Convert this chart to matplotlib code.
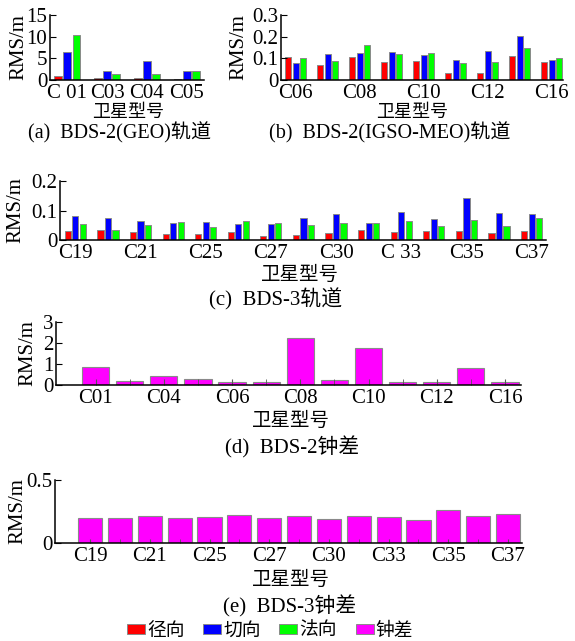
import matplotlib
matplotlib.use('Agg')
import matplotlib.pyplot as plt
from matplotlib.patches import Patch
import numpy as np

plt.rcParams['font.family'] = ['Liberation Serif', 'Noto Sans CJK SC']
plt.rcParams['font.size'] = 15
plt.rcParams['axes.linewidth'] = 1.1

# ---------------- data ----------------
geo_sats = ['C01', 'C03', 'C04', 'C05']
geo_ticklabels = ['C 01', 'C03', 'C04', 'C05']
geo_radial = [1.0, 0.4, 0.35, 0.25]
geo_along = [6.4, 2.1, 4.4, 2.1]
geo_cross = [10.5, 1.4, 1.5, 2.1]

igso_sats = ['C06', 'C07', 'C08', 'C09', 'C10', 'C11', 'C12', 'C14', 'C16']
igso_ticklabels = ['C06', 'C08', 'C10', 'C12', 'C16']
igso_radial = [0.108, 0.071, 0.106, 0.082, 0.088, 0.032, 0.031, 0.112, 0.083]
igso_along = [0.080, 0.122, 0.125, 0.128, 0.117, 0.094, 0.134, 0.205, 0.094]
igso_cross = [0.103, 0.088, 0.160, 0.118, 0.123, 0.080, 0.085, 0.146, 0.103]

bds3_sats = ['C19', 'C20', 'C21', 'C22', 'C25', 'C26', 'C27', 'C28',
             'C30', 'C32', 'C33', 'C34', 'C35', 'C36', 'C37']
bds3_ticklabels = ['C19', 'C21', 'C25', 'C27', 'C30', 'C 33', 'C35', 'C37']
bds3_radial = [0.031, 0.035, 0.027, 0.020, 0.021, 0.027, 0.012, 0.018,
               0.024, 0.033, 0.027, 0.029, 0.031, 0.024, 0.031]
bds3_along = [0.082, 0.076, 0.066, 0.056, 0.062, 0.053, 0.053, 0.075,
              0.088, 0.058, 0.096, 0.071, 0.142, 0.092, 0.088]
bds3_cross = [0.054, 0.033, 0.051, 0.060, 0.045, 0.064, 0.057, 0.051,
              0.058, 0.056, 0.065, 0.048, 0.069, 0.047, 0.074]

bds2_clk_sats = ['C01', 'C03', 'C04', 'C05', 'C06', 'C07', 'C08', 'C09',
                 'C10', 'C11', 'C12', 'C14', 'C16']
bds2_clk_ticklabels = ['C01', 'C04', 'C06', 'C08', 'C10', 'C12', 'C16']
bds2_clk = [0.84, 0.19, 0.44, 0.28, 0.14, 0.14, 2.23, 0.22, 1.74, 0.13, 0.14, 0.82, 0.16]

bds3_clk_ticklabels = ['C19', 'C21', 'C25', 'C27', 'C30', 'C33', 'C35', 'C37']
bds3_clk = [0.200, 0.200, 0.216, 0.200, 0.210, 0.226, 0.197, 0.218,
            0.190, 0.213, 0.208, 0.179, 0.260, 0.216, 0.234]

legend_labels = ['径向', '切向', '法向', '钟差']
colors = ['#ff0000', '#0000ff', '#00ff00', '#ff00ff']
EDGE = '#8a8a8a'

W, H = 575, 641
fig = plt.figure(figsize=(W / 100, H / 100), dpi=100)


def box(l, r, t, b):
    return [l / W, 1 - b / H, (r - l) / W, (b - t) / H]


def style(ax, ylim, yticks, yticklabels, ylabel_x):
    for s in ['top', 'right']:
        ax.spines[s].set_visible(False)
    ax.set_ylim(*ylim)
    ax.set_yticks(yticks)
    ax.set_yticklabels(yticklabels)
    ax.tick_params(axis='y', direction='in', length=4, pad=2)
    ax.tick_params(axis='x', direction='in', length=0, pad=3)
    ax.set_ylabel('RMS/m', labelpad=0)
    ax.yaxis.set_label_coords(ylabel_x, 0.5)


def grouped(ax, series, width=0.19, off=0.23):
    x = np.arange(len(series[0]))
    for k, vals in enumerate(series):
        ax.bar(x + (k - 1) * off, vals, width, color=colors[k],
               edgecolor=EDGE, linewidth=0.7)
    return x


def label(xp, yp, s, size=15):
    fig.text(xp / W, 1 - yp / H, s, ha='center', va='center', fontsize=size)


# (a)
ax = fig.add_axes(box(50, 204, 15, 80))
x = grouped(ax, [geo_radial, geo_along, geo_cross])
ax.set_xlim(-0.43, 3.43)
ax.set_xticks(x)
ax.set_xticklabels(geo_ticklabels)
style(ax, (0, 15), [0, 5, 10, 15], ['0', '5', '10', '15'], -0.14)
label(128, 112, '卫星型号', 13)
label(120, 133, '(a)  BDS-2(GEO)轨道', 14.5)

# (b)
ax = fig.add_axes(box(281, 563, 15, 80))
x = grouped(ax, [igso_radial, igso_along, igso_cross])
ax.set_xlim(-0.46, 8.35)
ax.set_xticks(x[::2])
ax.set_xticklabels(igso_ticklabels)
style(ax, (0, 0.3), [0, 0.1, 0.2, 0.3], ['0', '0.1', '0.2', '0.3'], -0.117)
label(412, 112, '卫星型号', 13)
label(390, 133, '(b)  BDS-2(IGSO-MEO)轨道', 14.5)

# (c)
ax = fig.add_axes(box(60, 546, 181, 240))
x = grouped(ax, [bds3_radial, bds3_along, bds3_cross])
ax.set_xlim(-0.47, 14.44)
ax.set_xticks(x[::2])
ax.set_xticklabels(bds3_ticklabels)
style(ax, (0, 0.2), [0, 0.1, 0.2], ['0', '0.1', '0.2'], -0.072)
label(300, 275, '卫星型号', 14)
label(276, 299, '(c)  BDS-3轨道')

# (d)
ax = fig.add_axes(box(56, 521, 322, 385))
xd = np.arange(len(bds2_clk))
ax.bar(xd, bds2_clk, 0.8, color=colors[3], edgecolor=EDGE, linewidth=0.8)
ax.set_xlim(-1.16, 12.47)
ax.set_xticks(xd[::2])
ax.set_xticklabels(bds2_clk_ticklabels)
ax.set_xticks(xd, minor=True)
style(ax, (0, 3), [0, 1, 2, 3], ['0', '1', '2', '3'], -0.041)
ax.tick_params(axis='x', which='both', direction='in', length=4, color='#555555')
label(291, 421, '卫星型号', 14)
label(292, 447, '(d)  BDS-2钟差')

# (e)
ax = fig.add_axes(box(55, 522, 480, 543))
xe = np.arange(len(bds3_clk))
ax.bar(xe, bds3_clk, 0.81, color=colors[3], edgecolor=EDGE, linewidth=0.8)
ax.set_xlim(-1.18, 14.47)
ax.set_xticks(xe[::2])
ax.set_xticklabels(bds3_clk_ticklabels)
ax.set_xticks(xe, minor=True)
style(ax, (0, 0.5), [0, 0.5], ['0', '0.5'], -0.06)
ax.tick_params(axis='x', which='both', direction='in', length=3, color='#555555')
label(291, 580, '卫星型号', 14)
label(290, 606, '(e)  BDS-3钟差')

handles = [Patch(facecolor=c, edgecolor=EDGE, linewidth=0.7) for c in colors]
fig.legend(handles, legend_labels, loc='center', bbox_to_anchor=(270 / W, 1 - 631 / H),
           ncol=4, frameon=False, fontsize=13.5, handlelength=0.96, handleheight=0.5,
           handletextpad=0.1, columnspacing=1.0, borderpad=0, borderaxespad=0)

fig.savefig('out.png', dpi=100)
